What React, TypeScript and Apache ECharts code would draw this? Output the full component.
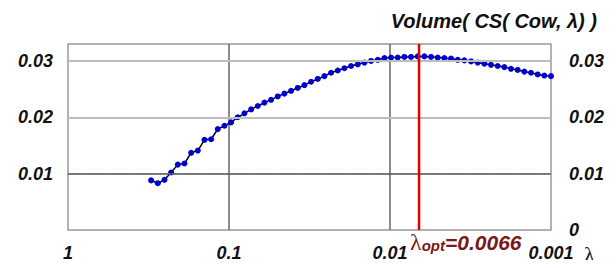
import React, { useEffect, useRef } from "react";
import * as echarts from "echarts";

// λ values (left to right on the reversed log axis)
const lambdas = [
  0.3045, 0.2768, 0.2516, 0.2288, 0.208, 0.1891, 0.1719, 0.1562, 0.142, 0.1291,
  0.1174, 0.1067, 0.09702, 0.0882, 0.08018, 0.07289, 0.06626, 0.06024, 0.05476, 0.04979,
  0.04526, 0.04114, 0.0374, 0.034, 0.03091, 0.0281, 0.02555, 0.02323, 0.02111, 0.01919,
  0.01745, 0.01586, 0.01442, 0.01311, 0.01192, 0.01083, 0.00985, 0.008954, 0.00814, 0.0074,
  0.006728, 0.006116, 0.00556, 0.005054, 0.004595, 0.004177, 0.003797, 0.003452, 0.003138, 0.002853,
  0.002594, 0.002358, 0.002144, 0.001949, 0.001772, 0.001611, 0.001464, 0.001331, 0.00121, 0.0011,
  0.001,
];

// Volume( CS( Cow, λ) ) values
const volumes = [
  0.0088, 0.0083, 0.0089, 0.0102, 0.0116, 0.0118, 0.0137, 0.0141, 0.016, 0.0161,
  0.0179, 0.0185, 0.0191, 0.02, 0.0207, 0.0214, 0.022, 0.0226, 0.0231, 0.0237,
  0.0242, 0.0247, 0.0252, 0.0257, 0.0263, 0.0268, 0.0273, 0.0279, 0.0283, 0.0287,
  0.0291, 0.0294, 0.0297, 0.03, 0.0302, 0.0305, 0.0306, 0.0306, 0.0307, 0.0307,
  0.0308, 0.0308, 0.0307, 0.0306, 0.0305, 0.0304, 0.0302, 0.0301, 0.0299, 0.0297,
  0.0295, 0.0293, 0.0291, 0.0289, 0.0286, 0.0284, 0.0281, 0.0279, 0.0276, 0.0274,
  0.0273,
];

const lambdaOpt = 0.0066;
const lambdaOptLabel = "=0.0066";

const xTickLabels = ["1", "0.1", "0.01", "0.001"];
const leftTickValues = [0.01, 0.02, 0.03];
const leftTickLabels = ["0.01", "0.02", "0.03"];
const rightTickValues = [0, 0.01, 0.02, 0.03];
const rightTickLabels = ["0", "0.01", "0.02", "0.03"];
const solidGridValues = [0.02, 0.03];
const darkGridValues = [0.01];
const dottedGridValues = [0.005, 0.015, 0.025];
const xGridValues = [0.1, 0.01];
const yMin = 0;
const yMax = 0.033;

const titleText = "Volume( CS( Cow, λ) )";

const FONT = '"Liberation Sans", Arial, sans-serif';
const labelStyle = {
  fontFamily: FONT,
  fontWeight: "bold" as const,
  fontStyle: "italic" as const,
  fontSize: 18,
  color: "#111",
};

function matchLabel(v: number, values: number[], labels: string[]) {
  for (let i = 0; i < values.length; i++) {
    if (Math.abs(v - values[i]) < 1e-6) return labels[i];
  }
  return "";
}

export default function App() {
  const ref = useRef<HTMLDivElement>(null);

  useEffect(() => {
    if (!ref.current) return;
    const chart = echarts.init(ref.current, null, { renderer: "svg" });
    const verticalSeries = xGridValues.map((v) => ({
      type: "line",
      data: [
        [v, yMin],
        [v, yMax],
      ],
      z: 1,
      silent: true,
      symbol: "none",
      lineStyle: { color: "#666", width: 1.5 },
    }));
    const option: any = {
      animation: false,
      title: {
        text: titleText,
        right: 14,
        top: 6,
        textStyle: { ...labelStyle, fontSize: 20 },
      },
      grid: {
        left: 68,
        right: 65,
        top: 44,
        bottom: 38,
        show: true,
        borderColor: "#999",
        borderWidth: 1.5,
        backgroundColor: "#fff",
        outerBoundsMode: "none",
      },
      xAxis: {
        type: "log",
        logBase: 10,
        min: 0.001,
        max: 1,
        inverse: true,
        axisLine: { show: false },
        axisTick: { show: false },
        splitLine: { show: false },
        axisLabel: {
          ...labelStyle,
          margin: 14,
          showMinLabel: true,
          showMaxLabel: true,
          formatter: (v: number) => {
            const e = Math.round(-Math.log10(v));
            return xTickLabels[e] ?? "";
          },
        },
      },
      yAxis: [
        {
          type: "value",
          min: yMin,
          max: yMax,
          interval: 0.01,
          position: "left",
          axisLine: { show: false },
          axisTick: { show: false },
          splitLine: { show: false },
          axisLabel: {
            ...labelStyle,
            margin: 15,
            formatter: (v: number) => matchLabel(v, leftTickValues, leftTickLabels),
          },
        },
        {
          type: "value",
          min: yMin,
          max: yMax,
          interval: 0.01,
          position: "right",
          axisLine: { show: false },
          axisTick: { show: false },
          splitLine: { show: false },
          axisLabel: {
            ...labelStyle,
            margin: 18,
            formatter: (v: number) => matchLabel(v, rightTickValues, rightTickLabels),
          },
        },
      ],
      series: [
        {
          type: "line",
          name: "grid",
          data: [],
          z: 1,
          silent: true,
          markLine: {
            silent: true,
            symbol: "none",
            label: { show: false },
            data: [
              ...dottedGridValues.map((v) => ({
                yAxis: v,
                lineStyle: { color: "#8a8a8a", type: [1, 2], width: 1 },
              })),
              ...solidGridValues.map((v) => ({
                yAxis: v,
                lineStyle: { color: "#bdbdbd", type: "solid", width: 2 },
              })),
              ...darkGridValues.map((v) => ({
                yAxis: v,
                lineStyle: { color: "#555", type: "solid", width: 1.5 },
              })),
            ],
          },
        },
        ...verticalSeries,
        {
          type: "line",
          name: "volume",
          data: lambdas.map((l, i) => [l, volumes[i]]),
          z: 3,
          symbol: "circle",
          symbolSize: 6,
          showSymbol: true,
          itemStyle: { color: "#0000d0", borderWidth: 0 },
          lineStyle: { color: "#000", width: 1.5 },
        },
        {
          type: "line",
          name: "opt",
          data: [
            [lambdaOpt, yMin],
            [lambdaOpt, yMax],
          ],
          z: 5,
          silent: true,
          symbol: "none",
          lineStyle: { color: "#e00000", width: 2.5 },
        },
      ],
    };
    chart.setOption(option);

    const px = chart.convertToPixel({ xAxisIndex: 0 }, lambdaOpt) as number;
    const py = chart.convertToPixel({ yAxisIndex: 0 }, 0) as number;
    const pRight = chart.convertToPixel({ xAxisIndex: 0 }, 0.001) as number;
    chart.setOption({
      graphic: [
        {
          type: "text",
          x: px - 9,
          y: py + 1,
          style: {
            text: "{l|λ}{s|opt}{v|" + lambdaOptLabel + "}",
            rich: {
              l: {
                fontFamily: '"Liberation Serif", serif',
                fontSize: 24,
                fill: "#7a1717",
                lineHeight: 22,
                verticalAlign: "middle",
              },
              s: {
                fontFamily: FONT,
                fontWeight: "bold",
                fontStyle: "italic",
                fontSize: 15,
                fill: "#7a1717",
                lineHeight: 10,
                verticalAlign: "bottom",
              },
              v: {
                fontFamily: FONT,
                fontWeight: "bold",
                fontStyle: "italic",
                fontSize: 21,
                fill: "#7a1717",
                lineHeight: 22,
                verticalAlign: "middle",
              },
            },
          },
        },
        {
          type: "text",
          x: pRight + 33,
          y: py + 13,
          style: {
            text: "λ",
            fontFamily: '"Liberation Serif", serif',
            fontSize: 22,
            fill: "#111",
          },
        },
      ],
    });

    return () => chart.dispose();
  }, []);

  return <div ref={ref} style={{ width: 616, height: 268, margin: -8 }} />;
}
